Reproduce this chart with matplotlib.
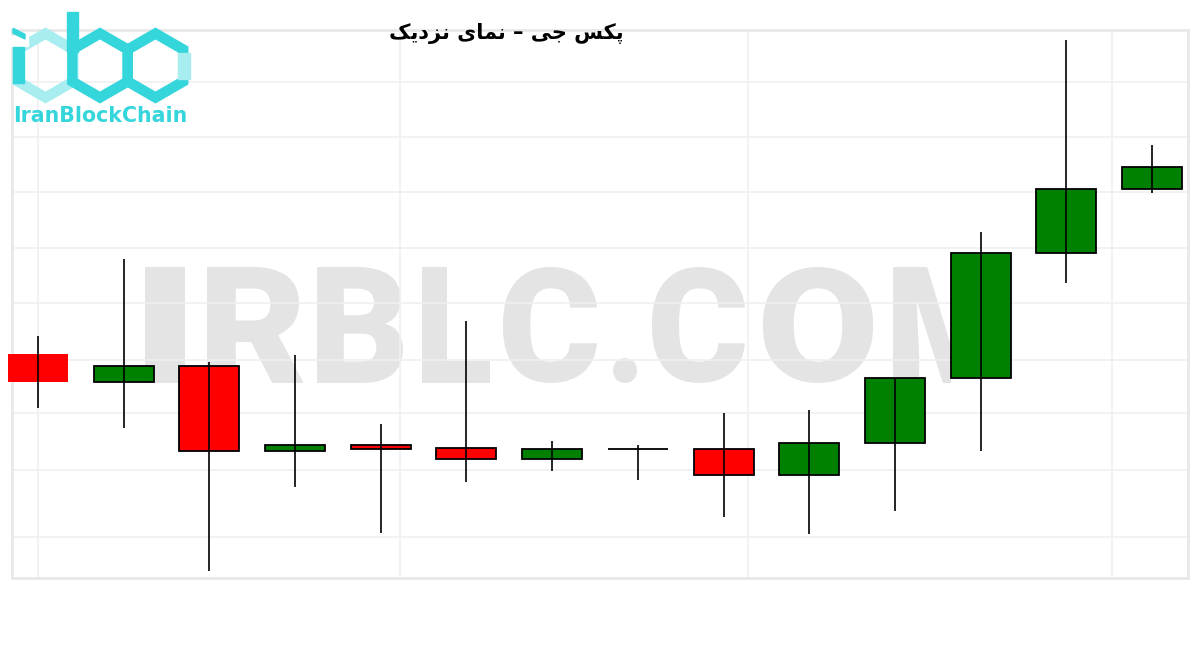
''' Paxos Gold (PAXG) close-up candlestick chart, IranBlockChain style '''

import matplotlib
matplotlib.use('Agg')
import matplotlib.pyplot as plt
from matplotlib.patches import RegularPolygon, Rectangle, Polygon, PathPatch
from matplotlib.path import Path
from matplotlib.textpath import TextPath
from matplotlib.font_manager import FontProperties
from matplotlib.transforms import Affine2D

# candle data (relative price units)
opens = [246, 218, 234, 149, 155, 152, 141, 151, 151, 125, 157, 222, 347, 411]
highs = [264, 341, 238, 245, 176, 279, 159, 155, 187, 190, 222, 368, 560, 455]
lows = [192, 172, 29, 113, 67, 118, 129, 120, 83, 66, 89, 149, 317, 407]
closes = [218, 234, 149, 155, 151, 141, 151, 151, 125, 157, 222, 347, 411, 433]

title = 'پکس جی – نمای نزدیک'
watermark = 'IRBLC.COM'
logo_text = 'IranBlockChain'

# faint background grid positions
grid_y = [518, 463, 408, 352, 297, 240, 187, 130, 63]
grid_x = [0, 4.22, 8.28, 12.53]

# minimal Persian shaping (matplotlib has no joining / RTL support)
FORMS = {
    'پ': ('\ufb56', '\ufb57', '\ufb58', '\ufb59'),
    'ک': ('\ufb8e', '\ufb8f', '\ufb90', '\ufb91'),
    'س': ('\ufeb1', '\ufeb2', '\ufeb3', '\ufeb4'),
    'ج': ('\ufe9d', '\ufe9e', '\ufe9f', '\ufea0'),
    'ی': ('\ufbfc', '\ufbfd', '\ufbfe', '\ufbff'),
    'ن': ('\ufee5', '\ufee6', '\ufee7', '\ufee8'),
    'م': ('\ufee1', '\ufee2', '\ufee3', '\ufee4'),
    'ا': ('\ufe8d', '\ufe8e', None, None),
    'ز': ('\ufeaf', '\ufeb0', None, None),
    'د': ('\ufea9', '\ufeaa', None, None),
}


def shape(text):
    out = []
    for i, ch in enumerate(text):
        if ch not in FORMS:
            out.append(ch)
            continue
        f = FORMS[ch]
        prev = text[i - 1] if i > 0 else ''
        nxt = text[i + 1] if i + 1 < len(text) else ''
        joins_prev = prev in FORMS and FORMS[prev][2] is not None
        joins_next = nxt in FORMS and f[2] is not None
        if joins_prev and joins_next:
            out.append(f[3])
        elif joins_prev:
            out.append(f[1])
        elif joins_next:
            out.append(f[2])
        else:
            out.append(f[0])
    return ''.join(reversed(out))


fig = plt.figure(figsize=(12, 6.5), dpi=100)

# background layer in pixel coords for the watermark
bg = fig.add_axes([0, 0, 1, 1], zorder=-1)
bg.set_xlim(0, 1200)
bg.set_ylim(650, 0)
bg.axis('off')

# each watermark letter fitted into its box (left, right) on the picture
wm_font = FontProperties(family='Roboto', weight='black')
wm_boxes = [(145, 185), (207, 303), (317, 403), (422, 490), (503, 597),
            (613, 637), (652, 745), (763, 873), (893, 1010)]
clip = Rectangle((0, 0), 951, 650, transform=bg.transData)
for ch, (x0, x1) in zip(watermark, wm_boxes):
    p = TextPath((0, 0), ch, size=100, prop=wm_font)
    pts = p.vertices[p.codes != Path.CLOSEPOLY]
    gx0, gy0 = pts.min(axis=0)
    gx1, gy1 = pts.max(axis=0)
    if ch == '.':
        top_y, bot_y = 358, 383
    else:
        top_y, bot_y = 267, 383
    tr = (Affine2D().translate(-gx0, -gy0)
          .scale((x1 - x0) / (gx1 - gx0), -(bot_y - top_y) / (gy1 - gy0))
          .translate(x0, bot_y))
    patch = PathPatch(tr.transform_path(p), facecolor='#e4e4e4', edgecolor='none')
    bg.add_patch(patch)
    patch.set_clip_path(clip)

ax = fig.add_axes([12 / 1200, 72 / 650, 1176 / 1200, 548 / 650])
ax.patch.set_visible(False)
ax.set_xlim(-0.303, 13.42)
ax.set_ylim(22, 570)

for s in ax.spines.values():
    s.set_color('#e8e8e8')
    s.set_linewidth(2)
ax.set_xticks(grid_x)
ax.set_yticks(grid_y)
ax.tick_params(length=0, labelbottom=False, labelleft=False)
ax.grid(True, color='#f0f0f0', linewidth=1.2)
ax.set_axisbelow(True)

# candles
body_w = 0.70
for i, (o, h, l, c) in enumerate(zip(opens, highs, lows, closes)):
    if c > o:
        col = '#008000'
    elif c < o:
        col = '#ff0000'
    else:
        col = None
    if col is None:
        ax.hlines(o, i - body_w / 2, i + body_w / 2, color='black', linewidth=1.3, zorder=4)
    else:
        ax.bar(i, abs(c - o), bottom=min(o, c), width=body_w, color=col,
               edgecolor='none' if i == 0 else 'black', linewidth=1.3, zorder=3,
               clip_on=False)
    ax.vlines(i, l, h, color='black', linewidth=1.2, zorder=4)

# overlay for logo and title, in pixel coordinates
top = fig.add_axes([0, 0, 1, 1], zorder=5)
top.set_xlim(0, 1200)
top.set_ylim(650, 0)
top.axis('off')
top.patch.set_alpha(0)

cyan = '#34d6dc'
light = '#a8eef0'
lw = 7.5
top.add_patch(RegularPolygon((45.5, 65.5), 6, radius=32, fill=False, edgecolor=light, linewidth=lw))
top.add_patch(RegularPolygon((100, 65.5), 6, radius=32, fill=False, edgecolor=cyan, linewidth=lw))
top.add_patch(RegularPolygon((155.5, 65.5), 6, radius=32, fill=False, edgecolor=cyan, linewidth=lw))
top.add_patch(Rectangle((8, 36), 20, 10, color='white', zorder=3))
top.add_patch(Rectangle((13, 47), 11, 36, color=cyan, zorder=4))
top.add_patch(Polygon([(13, 28.3), (25, 34.3), (25, 39), (13, 33.3)], closed=True,
                      color=cyan, zorder=4))
top.add_patch(Rectangle((67, 12), 11, 40, color=cyan, zorder=4))
top.add_patch(Rectangle((178, 53), 12, 26, color=light, zorder=4))
top.text(100, 115.5, logo_text, ha='center', va='center', fontsize=14.8,
         fontweight='bold', color=cyan, family='DejaVu Sans')

top.text(506, 34, shape(title), ha='center', va='center', fontsize=15,
         fontweight='bold', color='black', family='DejaVu Sans')

fig.savefig('out.png', dpi=100, facecolor='white')
